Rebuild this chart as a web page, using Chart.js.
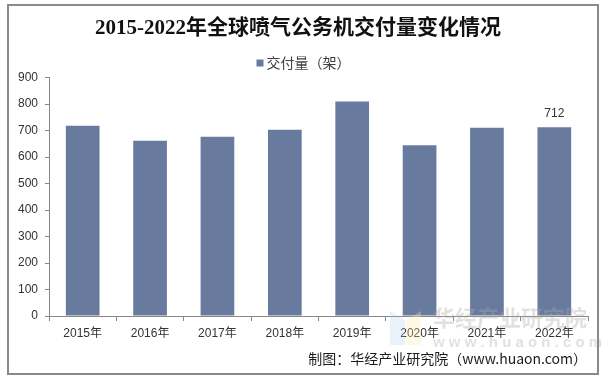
<!DOCTYPE html>
<html>
<head>
<meta charset="utf-8">
<script src="https://cdn.jsdelivr.net/npm/chart.js@4/dist/chart.umd.min.js"></script>
<style>
  html, body { margin: 0; padding: 0; background: #fff; }
  #wrap { width: 607px; height: 381px; position: relative; }
</style>
</head>
<body>
<div id="wrap"><canvas id="c" width="607" height="381"></canvas></div>
<script>
const categories = ['2015年', '2016年', '2017年', '2018年', '2019年', '2020年', '2021年', '2022年'];
const deliveries = [718, 661, 676, 703, 809, 644, 710, 712];
const seriesName = '交付量（架）';
const titleText = '2015-2022年全球喷气公务机交付量变化情况';
const sourceText = '制图：华经产业研究院（www.huaon.com）';
const labelledIndex = [7];
const yTicks = { min: 0, max: 900, step: 100 };

const barColor = '#687b9f';
const axisColor = '#888888';
const textColor = '#333333';

const decor = {
  id: 'decor',
  afterDraw(chart) {
    const ctx = chart.ctx;
    const meta = chart.getDatasetMeta(0);
    ctx.save();
    // value labels
    ctx.font = '12px "Liberation Sans", Arial, sans-serif';
    ctx.fillStyle = textColor;
    ctx.textAlign = 'center';
    ctx.textBaseline = 'middle';
    labelledIndex.forEach(i => {
      const el = meta.data[i];
      ctx.fillText(String(deliveries[i]), el.x, el.y - 13.5);
    });
    // legend
    const ds = chart.data.datasets[0];
    ctx.font = '14px "Noto Sans CJK SC", sans-serif';
    const tw = ctx.measureText(ds.label).width;
    const total = 7 + 3 + tw;
    const cx = (chart.width) / 2;
    const lx = cx - total / 2;
    const ly = 63;
    ctx.fillStyle = ds.backgroundColor;
    ctx.fillRect(lx, ly - 3.5, 7, 7);
    ctx.fillStyle = '#404040';
    ctx.textAlign = 'left';
    ctx.fillText(ds.label, lx + 10, ly);
    // watermark
    ctx.fillStyle = 'rgba(170,170,170,0.35)';
    ctx.font = 'bold 22px "Noto Sans CJK SC", sans-serif';
    ctx.textAlign = 'left';
    ctx.fillText('华经产业研究院', 433, 318);
    ctx.font = 'bold 15px "Liberation Sans", Arial, sans-serif';
    ctx.fillText('w w w . h u a o n . c o m', 433, 343);
    ctx.fillStyle = 'rgba(170,200,240,0.25)';
    ctx.beginPath();
    ctx.moveTo(390, 311); ctx.lineTo(405, 320); ctx.lineTo(405, 345); ctx.lineTo(390, 345); ctx.closePath(); ctx.fill();
    ctx.fillStyle = 'rgba(250,235,170,0.3)';
    ctx.beginPath();
    ctx.moveTo(406, 320); ctx.lineTo(421, 311); ctx.lineTo(421, 345); ctx.lineTo(406, 345); ctx.closePath(); ctx.fill();
    // source
    ctx.fillStyle = '#1a1a1a';
    ctx.font = '14px "Noto Sans CJK SC", sans-serif';
    ctx.textAlign = 'right';
    ctx.fillText(sourceText, 587, 359);
    // outer border
    ctx.strokeStyle = '#8a8a8a';
    ctx.lineWidth = 2;
    ctx.strokeRect(8, 5, 590, 369);
    ctx.restore();
  }
};

new Chart(document.getElementById('c'), {
  type: 'bar',
  data: {
    labels: categories,
    datasets: [{
      label: seriesName,
      data: deliveries,
      backgroundColor: barColor,
      borderWidth: 0,
      barPercentage: 0.5,
      categoryPercentage: 1.0
    }]
  },
  options: {
    responsive: false,
    animation: false,
    devicePixelRatio: 1,
    layout: { padding: { left: 8, right: 19, top: 0, bottom: 0 } },
    plugins: {
      legend: { display: false },
      tooltip: { enabled: false },
      title: {
        display: true,
        text: titleText,
        color: '#111111',
        font: { family: '"Liberation Serif", "Noto Sans CJK SC", serif', size: 21, weight: 'bold', lineHeight: 1.2 },
        padding: { top: 16, bottom: 36.3 }
      }
    },
    scales: {
      x: {
        grid: { display: true, drawOnChartArea: false, drawTicks: true, tickLength: 5, offset: true, color: axisColor, lineWidth: 1 },
        border: { display: true, color: axisColor, width: 1 },
        ticks: { color: textColor, font: { family: '"Liberation Sans", "Noto Sans CJK SC", sans-serif', size: 12 }, padding: 5, maxRotation: 0 },
        afterFit(scale) { scale.height = 65; }
      },
      y: {
        min: yTicks.min,
        max: yTicks.max,
        grid: { display: true, drawOnChartArea: false, drawTicks: true, tickLength: 4, color: axisColor, lineWidth: 1 },
        border: { display: true, color: axisColor, width: 1 },
        ticks: { stepSize: yTicks.step, color: textColor, font: { family: '"Liberation Sans", Arial, sans-serif', size: 12 }, padding: 7 },
        afterFit(scale) { scale.width = 41; }
      }
    }
  },
  plugins: [decor]
});
</script>
</body>
</html>
